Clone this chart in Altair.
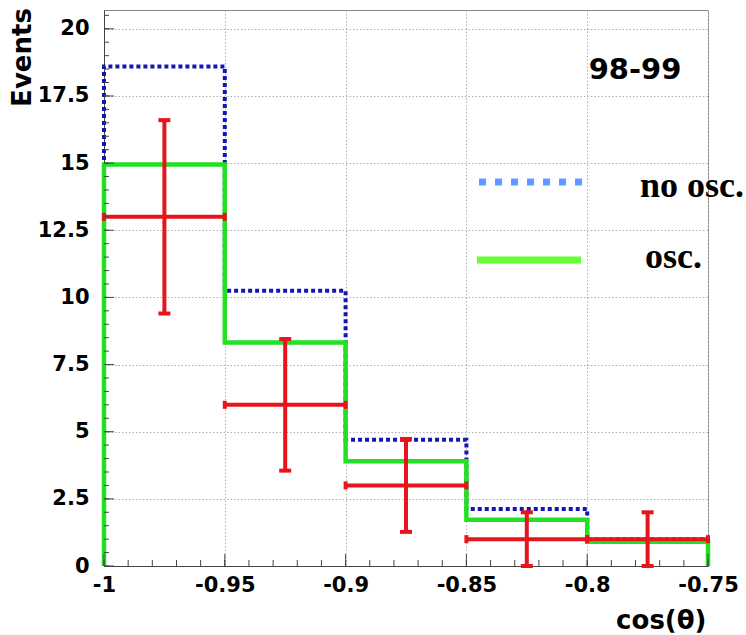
import altair as alt
import numpy as np
import pandas as pd

# ---- data ----
edges = [-1.0, -0.95, -0.9, -0.85, -0.8, -0.75]
no_osc = [18.6, 10.25, 4.7, 2.12, 1.0]
osc = [14.95, 8.32, 3.9, 1.72, 0.9]
data_vals = [13, 6, 3, 1, 1]
err_lo = [9.4, 3.55, 1.27, 0.0, 0.0]
err_hi = [16.6, 8.45, 4.73, 2.0, 2.0]

x_ticks = [-1.0, -0.95, -0.9, -0.85, -0.8, -0.75]
y_ticks = [0, 2.5, 5, 7.5, 10, 12.5, 15, 17.5, 20]

W, H = 604, 556
XDOM = [-1.0, -0.75]
YDOM = [0, 20.7]

FONT = "DejaVu Sans"


def step_path(vals, name):
    pts = [(edges[0], 0.0)]
    for i, v in enumerate(vals):
        pts.append((edges[i], v))
        pts.append((edges[i + 1], v))
    pts.append((edges[-1], 0.0))
    return pd.DataFrame({"x": [p[0] for p in pts], "y": [p[1] for p in pts],
                         "o": list(range(len(pts))), "s": name})


xs = alt.Scale(domain=XDOM, nice=False, zero=False)
ys = alt.Scale(domain=YDOM, nice=False, zero=False)

xa = alt.Axis(
    values=x_ticks, labelExpr="'' + datum.value", grid=True,
    gridDash=[1.5, 2], gridColor="#b0b0b0", ticks=False, tickSize=0,
    labelFont=FONT, labelFontWeight="bold", labelFontSize=21,
    labelColor="black", labelPadding=8, domainColor="#444444",
    titleFont=FONT, titleFontWeight="bold", titleFontSize=26,
    titleAnchor="end", titleAlign="right", titleX=602, titleY=54,
    titleBaseline="middle", titleColor="black", labelFlush=False)
ya = alt.Axis(
    values=y_ticks, labelExpr="'' + datum.value", grid=True,
    gridDash=[1.5, 2], gridColor="#b0b0b0", ticks=False, tickSize=0,
    labelFont=FONT, labelFontWeight="bold", labelFontSize=21,
    labelColor="black", labelPadding=15, domainColor="#444444",
    titleFont=FONT, titleFontWeight="bold", titleFontSize=26,
    titleAngle=270, titleX=-82, titleY=47, titleAlign="center",
    titleBaseline="middle", titleColor="black", labelFlush=False)
XT = "cos(θ)"
YT = "Events"


def X(f):
    return alt.X(f, scale=xs, axis=xa, title=XT)


def Y(f):
    return alt.Y(f, scale=ys, axis=ya, title=YT)


blue = alt.Chart(step_path(no_osc, "no osc")).mark_line(
    color="#1515b0", strokeWidth=4, strokeDash=[4, 3], strokeCap="butt"
).encode(x=X("x:Q"), y=Y("y:Q"), order="o:Q")

green = alt.Chart(step_path(osc, "osc")).mark_line(
    color="#22e022", strokeWidth=4.5, strokeCap="butt"
).encode(x=X("x:Q"), y=Y("y:Q"), order="o:Q")

centers = [(edges[i] + edges[i + 1]) / 2 for i in range(len(data_vals))]
df_pts = pd.DataFrame({
    "lo_e": edges[:-1], "hi_e": edges[1:], "c": centers,
    "v": data_vals, "elo": err_lo, "ehi": err_hi,
})
RED = "#e8141c"
hbar = alt.Chart(df_pts).mark_rule(color=RED, strokeWidth=4, opacity=1).encode(
    x=X("lo_e:Q"), x2="hi_e:Q", y=Y("v:Q"))
vbar = alt.Chart(df_pts).mark_rule(color=RED, strokeWidth=4, opacity=1).encode(
    x=X("c:Q"), y=Y("elo:Q"), y2="ehi:Q")
cap_lo = alt.Chart(df_pts).mark_tick(color=RED, orient="horizontal", size=12, thickness=4, opacity=1).encode(
    x=X("c:Q"), y=Y("elo:Q"))
cap_hi = alt.Chart(df_pts).mark_tick(color=RED, orient="horizontal", size=12, thickness=4, opacity=1).encode(
    x=X("c:Q"), y=Y("ehi:Q"))
cap_l = alt.Chart(df_pts).mark_tick(color=RED, orient="vertical", size=8, thickness=4, opacity=1).encode(
    x=X("lo_e:Q"), y=Y("v:Q"))
cap_r = alt.Chart(df_pts).mark_tick(color=RED, orient="vertical", size=8, thickness=4, opacity=1).encode(
    x=X("hi_e:Q"), y=Y("v:Q"))

# inward ticks (major and minor)
x_minor = [round(v, 3) for v in np.arange(-1.0, -0.7499, 0.01)]
y_minor = [round(v, 2) for v in np.arange(0, 20.51, 0.5)]
xt_maj = alt.Chart(pd.DataFrame({"t": x_ticks})).mark_tick(
    orient="vertical", size=12, thickness=1, color="#444444", opacity=1).encode(
    x=X("t:Q"), y=alt.value(H - 6))
xt_min = alt.Chart(pd.DataFrame({"t": x_minor})).mark_tick(
    orient="vertical", size=6, thickness=1, color="#444444", opacity=1).encode(
    x=X("t:Q"), y=alt.value(H - 3))
yt_maj = alt.Chart(pd.DataFrame({"t": y_ticks})).mark_tick(
    orient="horizontal", size=10, thickness=1, color="#444444", opacity=1).encode(
    y=Y("t:Q"), x=alt.value(5))
yt_min = alt.Chart(pd.DataFrame({"t": y_minor})).mark_tick(
    orient="horizontal", size=5, thickness=1, color="#444444", opacity=1).encode(
    y=Y("t:Q"), x=alt.value(2.5))

# annotations and legend
one = pd.DataFrame({"a": [0]})
period = alt.Chart(one).mark_text(
    text="98-99", font=FONT, fontWeight="bold", fontSize=29, color="black",
    align="center", baseline="middle").encode(x=alt.value(531), y=alt.value(60))
leg_blue = alt.Chart(one).mark_rule(
    color="#6699ff", strokeWidth=7, strokeDash=[7, 9], strokeCap="butt").encode(
    x=alt.value(375), x2=alt.value(482), y=alt.value(172))
leg_green = alt.Chart(one).mark_rule(
    color="#66ff33", strokeWidth=7, strokeCap="butt").encode(
    x=alt.value(373), x2=alt.value(477), y=alt.value(250))
txt_no = alt.Chart(one).mark_text(
    text="no osc.", font="Liberation Serif", fontWeight="bold", fontSize=36,
    color="black", align="left", baseline="alphabetic").encode(
    x=alt.value(536), y=alt.value(187))
txt_osc = alt.Chart(one).mark_text(
    text="osc.", font="Liberation Serif", fontWeight="bold", fontSize=36,
    color="black", align="left", baseline="alphabetic").encode(
    x=alt.value(541), y=alt.value(258))

chart = alt.layer(
    blue, green, hbar, vbar, cap_lo, cap_hi, cap_l, cap_r,
    xt_maj, xt_min, yt_maj, yt_min,
    period, leg_blue, leg_green, txt_no, txt_osc,
).properties(
    width=W, height=H,
    autosize=alt.AutoSizeParams(type="none"),
    padding={"left": 104, "top": 10, "right": 38, "bottom": 69},
    background="white",
).configure_view(stroke="#888888", strokeWidth=1)

chart.save("out.html", embed_options={"renderer": "svg", "actions": False})
